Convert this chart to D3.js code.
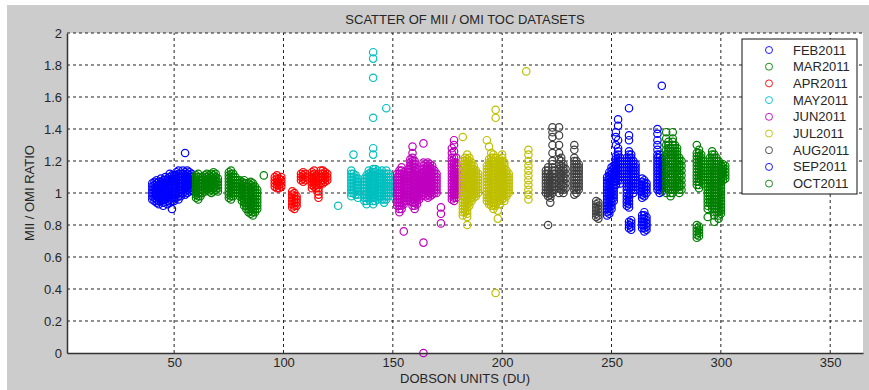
<!DOCTYPE html>
<html>
<head>
<meta charset="utf-8">
<script src="https://cdn.jsdelivr.net/npm/d3@7"></script>
<style>
  body { margin: 0; background: #fff; }
  text { font-family: "Liberation Sans", Arial, sans-serif; font-size: 13px; fill: #262626; }
</style>
</head>
<body>
<div id="chart"></div>
<script>
const months = ['FEB2011', 'MAR2011', 'APR2011', 'MAY2011', 'JUN2011', 'JUL2011', 'AUG2011', 'SEP2011', 'OCT2011'];
const colors = ['#0000ff', '#008000', '#ff0000', '#00bfbf', '#bf00bf', '#bfbf00', '#404040', '#0000ff', '#008000'];
const xTicks = [50, 100, 150, 200, 250, 300, 350];
const yTicks = [0, 0.2, 0.4, 0.6, 0.8, 1, 1.2, 1.4, 1.6, 1.8, 2];

// [day, ratios for that day]
const feb = [
  [40, [0.96, 0.98, 1.0, 1.02, 1.04, 1.06]],
  [41, [0.95, 0.97, 0.99, 1.01, 1.03, 1.05, 1.07]],
  [42, [0.94, 0.96, 0.98, 1.0, 1.02, 1.04, 1.06, 1.08]],
  [43, [0.93, 0.95, 0.97, 0.99, 1.01, 1.03, 1.05, 1.07]],
  [44, [0.95, 0.97, 0.99, 1.01, 1.03, 1.05, 1.07, 1.09]],
  [45, [0.92, 0.94, 0.96, 0.98, 1.0, 1.02, 1.04, 1.06, 1.08]],
  [46, [0.96, 0.98, 1.0, 1.02, 1.04, 1.06, 1.08, 1.1]],
  [47, [0.93, 0.95, 0.97, 0.99, 1.01, 1.03, 1.05, 1.07, 1.09]],
  [48, [0.94, 0.96, 0.98, 1.0, 1.02, 1.04, 1.06, 1.08, 1.1, 1.12]],
  [49, [0.9, 0.95, 0.97, 0.99, 1.01, 1.03, 1.05, 1.07, 1.09, 1.11]],
  [50, [0.95, 0.97, 0.99, 1.01, 1.03, 1.05, 1.07, 1.09, 1.11]],
  [51, [0.97, 0.99, 1.01, 1.03, 1.05, 1.07, 1.09, 1.11, 1.13]],
  [52, [0.96, 0.98, 1.0, 1.02, 1.04, 1.06, 1.08, 1.1, 1.12, 1.14]],
  [53, [0.98, 1.0, 1.02, 1.04, 1.06, 1.08, 1.1, 1.12]],
  [54, [1.0, 1.02, 1.04, 1.06, 1.08, 1.1, 1.12, 1.14]],
  [55, [0.99, 1.01, 1.03, 1.05, 1.07, 1.09, 1.11, 1.13, 1.25]],
  [56, [1.0, 1.02, 1.04, 1.06, 1.08, 1.1, 1.12, 1.14]],
  [57, [1.01, 1.03, 1.05, 1.07, 1.09, 1.11, 1.13]],
  [58, [1.02, 1.04, 1.06, 1.08, 1.1, 1.12]],
  [59, [1.01, 1.03, 1.05]]
];
const mar = [
  [60, [0.97, 0.99, 1.01, 1.03, 1.05, 1.07, 1.09, 1.11]],
  [61, [0.96, 0.98, 1.0, 1.02, 1.04, 1.06, 1.08, 1.1, 1.12]],
  [62, [0.98, 1.0, 1.02, 1.04, 1.06, 1.08, 1.1]],
  [63, [1.0, 1.02, 1.04, 1.06, 1.08, 1.1]],
  [64, [1.01, 1.03, 1.05, 1.07, 1.09, 1.11]],
  [65, [1.02, 1.04, 1.06, 1.08, 1.1, 1.12]],
  [66, [1.01, 1.03, 1.05, 1.07, 1.09, 1.11]],
  [67, [1.0, 1.02, 1.04, 1.06, 1.08, 1.1, 1.12]],
  [68, [1.01, 1.03, 1.05, 1.07, 1.09, 1.11, 1.13]],
  [69, [1.02, 1.04, 1.06, 1.08, 1.1, 1.12]],
  [70, [1.01, 1.03, 1.05, 1.07, 1.09]],
  [75, [0.97, 0.99, 1.01, 1.03, 1.05, 1.07, 1.09, 1.11, 1.13]],
  [76, [0.96, 0.98, 1.0, 1.02, 1.04, 1.06, 1.08, 1.1, 1.12, 1.14]],
  [77, [0.98, 1.0, 1.02, 1.04, 1.06, 1.08, 1.1, 1.12]],
  [78, [1.0, 1.02, 1.04, 1.06, 1.08, 1.1]],
  [79, [1.0, 1.02, 1.04, 1.06, 1.08]],
  [80, [0.98, 1.0, 1.02, 1.04, 1.06, 1.08]],
  [81, [0.95, 0.97, 0.99, 1.01, 1.03, 1.05, 1.07]],
  [82, [0.92, 0.94, 0.96, 0.98, 1.0, 1.02, 1.04, 1.06, 1.08]],
  [83, [0.9, 0.92, 0.94, 0.96, 0.98, 1.0, 1.02, 1.04, 1.06]],
  [84, [0.88, 0.9, 0.92, 0.94, 0.96, 0.98, 1.0, 1.02, 1.04, 1.06]],
  [85, [0.87, 0.89, 0.91, 0.93, 0.95, 0.97, 0.99, 1.01, 1.03, 1.05, 1.07]],
  [86, [0.86, 0.88, 0.9, 0.92, 0.94, 0.96, 0.98, 1.0, 1.02, 1.04, 1.06]],
  [87, [0.88, 0.9, 0.92, 0.94, 0.96, 0.98, 1.0, 1.02, 1.04]],
  [88, [0.9, 0.92, 0.94, 0.96, 0.98, 1.0, 1.02]],
  [91, [1.11]]
];
const apr = [
  [96, [1.04, 1.06, 1.08, 1.1]],
  [97, [1.03, 1.05, 1.07, 1.09, 1.11]],
  [98, [1.03, 1.05, 1.07, 1.09]],
  [99, [1.04, 1.06, 1.08, 1.1]],
  [104, [0.91, 0.93, 0.95, 0.97, 0.99, 1.01]],
  [105, [0.9, 0.92, 0.94, 0.96, 0.98, 1.0]],
  [106, [0.92, 0.94, 0.96, 0.98]],
  [108, [1.08, 1.1, 1.12]],
  [109, [1.07, 1.09, 1.11, 1.13]],
  [110, [1.08, 1.1, 1.12]],
  [113, [1.03, 1.05, 1.07, 1.09, 1.11, 1.13]],
  [114, [1.04, 1.06, 1.08, 1.1, 1.12, 1.14]],
  [115, [1.03, 1.05, 1.07, 1.09, 1.11]],
  [116, [0.97, 0.99, 1.01, 1.03, 1.05]],
  [117, [1.06, 1.08, 1.1, 1.12, 1.14]],
  [118, [1.06, 1.08, 1.1, 1.12, 1.14]],
  [119, [1.07, 1.09, 1.11, 1.13]],
  [120, [1.08, 1.1, 1.12]]
];
const may = [
  [125, [0.92]],
  [131, [0.98, 1.0, 1.02, 1.04, 1.06, 1.08, 1.1, 1.12, 1.14]],
  [132, [1.0, 1.02, 1.04, 1.06, 1.08, 1.1, 1.12, 1.24]],
  [133, [0.99, 1.01, 1.03, 1.05, 1.07, 1.09, 1.11]],
  [134, [0.97, 0.99, 1.01, 1.03, 1.05, 1.07, 1.09]],
  [137, [0.95, 0.97, 0.99, 1.01, 1.03, 1.05, 1.07, 1.09]],
  [138, [0.93, 0.95, 0.97, 0.99, 1.01, 1.03, 1.05, 1.07, 1.09, 1.11]],
  [139, [0.96, 0.98, 1.0, 1.02, 1.04, 1.06, 1.08, 1.1, 1.12, 1.14]],
  [140, [0.97, 0.99, 1.01, 1.03, 1.05, 1.07, 1.09, 1.11, 1.13]],
  [141, [0.93, 0.95, 0.97, 0.99, 1.01, 1.03, 1.05, 1.07, 1.09, 1.11, 1.13, 1.15, 1.24, 1.28, 1.47, 1.72, 1.84, 1.88]],
  [142, [0.95, 0.97, 0.99, 1.01, 1.03, 1.05, 1.07, 1.09, 1.11, 1.13, 1.15]],
  [143, [0.96, 0.98, 1.0, 1.02, 1.04, 1.06, 1.08, 1.1, 1.12, 1.14]],
  [144, [0.98, 1.0, 1.02, 1.04, 1.06, 1.08, 1.1, 1.12]],
  [145, [0.96, 0.98, 1.0, 1.02, 1.04, 1.06, 1.08, 1.1, 1.12, 1.14]],
  [146, [0.94, 0.96, 0.98, 1.0, 1.02, 1.04, 1.06, 1.08, 1.1, 1.12]],
  [147, [0.96, 0.98, 1.0, 1.02, 1.04, 1.06, 1.08, 1.1, 1.12, 1.14, 1.53]],
  [148, [0.98, 1.0, 1.02, 1.04, 1.06, 1.08, 1.1, 1.12]],
  [149, [1.0, 1.02, 1.04, 1.06, 1.08, 1.1]],
  [150, [0.98, 1.0, 1.02, 1.04, 1.06]]
];
const jun = [
  [152, [0.92, 0.94, 0.96, 0.98, 1.0, 1.02, 1.04, 1.06, 1.08, 1.1, 1.12]],
  [153, [0.88, 0.9, 0.92, 0.94, 0.96, 0.98, 1.0, 1.02, 1.04, 1.06, 1.08, 1.1, 1.12, 1.14]],
  [154, [0.9, 0.92, 0.94, 0.96, 0.98, 1.0, 1.02, 1.04, 1.06, 1.08, 1.1, 1.12, 1.14, 1.16]],
  [155, [0.76, 0.93, 0.95, 0.97, 0.99, 1.01, 1.03, 1.05, 1.07, 1.09, 1.11, 1.13]],
  [156, [0.95, 0.97, 0.99, 1.01, 1.03, 1.05, 1.07, 1.09, 1.11]],
  [157, [0.97, 0.99, 1.01, 1.03, 1.05, 1.07, 1.09, 1.11, 1.13, 1.15]],
  [158, [0.95, 0.97, 0.99, 1.01, 1.03, 1.05, 1.07, 1.09, 1.11, 1.13, 1.15, 1.17, 1.19, 1.21]],
  [159, [0.92, 0.94, 0.96, 0.98, 1.0, 1.02, 1.04, 1.06, 1.08, 1.1, 1.12, 1.14, 1.16, 1.18, 1.2, 1.22, 1.25, 1.29]],
  [160, [0.9, 0.92, 0.94, 0.96, 0.98, 1.0, 1.02, 1.04, 1.06, 1.08, 1.1, 1.12, 1.14, 1.16, 1.18, 1.2]],
  [161, [0.93, 0.95, 0.97, 0.99, 1.01, 1.03, 1.05, 1.07, 1.09, 1.11, 1.13, 1.15]],
  [162, [0.96, 0.98, 1.0, 1.02, 1.04, 1.06, 1.08, 1.1]],
  [163, [0.98, 1.0, 1.02, 1.04, 1.06, 1.08, 1.1, 1.12]],
  [164, [0.0, 0.69, 0.99, 1.01, 1.03, 1.05, 1.07, 1.09, 1.11, 1.13, 1.15, 1.17, 1.19, 1.31]],
  [165, [0.98, 1.0, 1.02, 1.04, 1.06, 1.08, 1.1, 1.12, 1.14, 1.16, 1.18]],
  [166, [0.97, 0.99, 1.01, 1.03, 1.05, 1.07, 1.09, 1.11, 1.13, 1.15, 1.17, 1.19]],
  [167, [0.98, 1.0, 1.02, 1.04, 1.06, 1.08, 1.1, 1.12, 1.14, 1.16, 1.18]],
  [168, [0.99, 1.01, 1.03, 1.05, 1.07, 1.09, 1.11, 1.13, 1.15, 1.17]],
  [169, [1.0, 1.02, 1.04, 1.06, 1.08, 1.1, 1.12, 1.14]],
  [170, [1.0, 1.02, 1.04, 1.06, 1.08, 1.1, 1.12]],
  [172, [0.81, 0.87, 0.91]],
  [177, [0.96, 0.98, 1.0, 1.02, 1.04, 1.06, 1.08, 1.1, 1.12, 1.14, 1.16, 1.18, 1.2, 1.22, 1.25, 1.28]],
  [178, [0.95, 0.97, 0.99, 1.01, 1.03, 1.05, 1.07, 1.09, 1.11, 1.13, 1.15, 1.17, 1.19, 1.22, 1.26, 1.3, 1.33]],
  [179, [0.97, 0.99, 1.01, 1.03, 1.05, 1.07, 1.09, 1.11, 1.13, 1.15, 1.17, 1.19, 1.22]],
  [180, [1.0, 1.02, 1.04, 1.06, 1.08, 1.1, 1.12, 1.15]],
  [181, [1.02, 1.04, 1.06, 1.08, 1.1]]
];
const jul = [
  [182, [0.86, 0.88, 0.9, 0.92, 0.94, 0.96, 0.98, 1.0, 1.02, 1.04, 1.06, 1.08, 1.1, 1.12, 1.14, 1.16, 1.18, 1.2, 1.35]],
  [183, [0.88, 0.9, 0.92, 0.94, 0.96, 0.98, 1.0, 1.02, 1.04, 1.06, 1.08, 1.1, 1.12, 1.14, 1.16, 1.18, 1.2, 1.22]],
  [184, [0.8, 0.85, 0.87, 0.89, 0.91, 0.93, 0.95, 0.97, 0.99, 1.01, 1.03, 1.05, 1.07, 1.09, 1.11, 1.13, 1.15, 1.17, 1.19, 1.21, 1.24]],
  [185, [0.92, 0.94, 0.96, 0.98, 1.0, 1.02, 1.04, 1.06, 1.08, 1.1, 1.12, 1.14, 1.16, 1.18, 1.2, 1.22]],
  [186, [0.95, 0.97, 0.99, 1.01, 1.03, 1.05, 1.07, 1.09, 1.11, 1.13, 1.15, 1.17, 1.19]],
  [187, [0.97, 0.99, 1.01, 1.03, 1.05, 1.07, 1.09, 1.11, 1.13, 1.15, 1.17]],
  [188, [0.98, 1.0, 1.02, 1.04, 1.06, 1.08, 1.1, 1.12, 1.14]],
  [189, [1.0, 1.02, 1.04, 1.06, 1.08, 1.1, 1.12]],
  [193, [0.95, 0.97, 0.99, 1.01, 1.03, 1.05, 1.07, 1.09, 1.11, 1.13, 1.15, 1.17, 1.33]],
  [194, [0.93, 0.95, 0.97, 0.99, 1.01, 1.03, 1.05, 1.07, 1.09, 1.11, 1.13, 1.15, 1.17, 1.19, 1.21, 1.29]],
  [195, [0.92, 0.94, 0.96, 0.98, 1.0, 1.02, 1.04, 1.06, 1.08, 1.1, 1.12, 1.14, 1.16, 1.18, 1.2, 1.22, 1.25]],
  [196, [0.9, 0.92, 0.94, 0.96, 0.98, 1.0, 1.02, 1.04, 1.06, 1.08, 1.1, 1.12, 1.14, 1.16, 1.18, 1.2, 1.22, 1.24]],
  [197, [0.375, 0.92, 0.94, 0.96, 0.98, 1.0, 1.02, 1.04, 1.06, 1.08, 1.1, 1.12, 1.14, 1.16, 1.18, 1.2, 1.22, 1.47, 1.52]],
  [198, [0.84, 0.89, 0.95, 0.97, 0.99, 1.01, 1.03, 1.05, 1.07, 1.09, 1.11, 1.13, 1.15, 1.17, 1.19]],
  [199, [0.93, 0.95, 0.97, 0.99, 1.01, 1.03, 1.05, 1.07, 1.09, 1.11, 1.13, 1.15, 1.17, 1.19, 1.21]],
  [200, [0.96, 0.98, 1.0, 1.02, 1.04, 1.06, 1.08, 1.1, 1.12, 1.14, 1.16, 1.18, 1.2, 1.22, 1.24]],
  [201, [0.95, 0.97, 0.99, 1.01, 1.03, 1.05, 1.07, 1.09, 1.11, 1.13, 1.15, 1.17, 1.19]],
  [202, [0.98, 1.0, 1.02, 1.04, 1.06, 1.08, 1.1, 1.12, 1.14]],
  [203, [1.0, 1.02, 1.04, 1.06, 1.08, 1.1, 1.12]],
  [211, [1.76]],
  [212, [0.96, 0.99, 1.02, 1.05, 1.08, 1.11, 1.14, 1.17, 1.2, 1.24, 1.27]]
];
const aug = [
  [220, [1.0, 1.02, 1.04, 1.06, 1.08, 1.1, 1.12, 1.14]],
  [221, [0.8, 0.98, 1.0, 1.02, 1.04, 1.06, 1.08, 1.1, 1.12, 1.14, 1.16]],
  [222, [0.94, 0.97, 0.99, 1.01, 1.03, 1.05, 1.07, 1.09, 1.11]],
  [223, [1.0, 1.02, 1.04, 1.06, 1.08, 1.1, 1.12, 1.14, 1.16, 1.18, 1.2, 1.25, 1.3, 1.35, 1.38, 1.41]],
  [224, [1.02, 1.04, 1.06, 1.08, 1.1, 1.12, 1.14]],
  [226, [1.0, 1.03, 1.06, 1.09, 1.12, 1.15, 1.18, 1.21, 1.25, 1.3, 1.36, 1.41]],
  [227, [1.02, 1.05, 1.08, 1.11, 1.14, 1.17, 1.2, 1.22]],
  [228, [1.0, 1.02, 1.04, 1.06, 1.08, 1.1, 1.12, 1.14, 1.16, 1.18]],
  [229, [1.03, 1.06, 1.09, 1.12, 1.15]],
  [233, [0.99, 1.02, 1.04, 1.06, 1.08, 1.1, 1.12, 1.14, 1.16, 1.18, 1.2, 1.22, 1.27, 1.3]],
  [234, [1.0, 1.02, 1.04, 1.06, 1.08, 1.1, 1.12, 1.14, 1.16, 1.18, 1.2]],
  [235, [1.02, 1.04, 1.06, 1.08, 1.1, 1.12, 1.14, 1.16, 1.18]],
  [243, [0.85, 0.87, 0.89, 0.91, 0.93, 0.95]],
  [244, [0.84, 0.86, 0.88, 0.9, 0.92, 0.94]]
];
const sep = [
  [248, [0.86, 0.88, 0.9, 0.92, 0.94, 0.96, 0.98, 1.0, 1.02, 1.04, 1.06, 1.08, 1.1]],
  [249, [0.87, 0.89, 0.91, 0.93, 0.95, 0.97, 0.99, 1.01, 1.03, 1.05, 1.07, 1.09, 1.11, 1.13]],
  [250, [0.9, 0.92, 0.94, 0.96, 0.98, 1.0, 1.02, 1.04, 1.06, 1.08, 1.1, 1.12, 1.14, 1.16]],
  [251, [0.95, 0.97, 0.99, 1.01, 1.03, 1.05, 1.07, 1.09, 1.11, 1.13, 1.15, 1.17]],
  [252, [1.05, 1.07, 1.09, 1.11, 1.13, 1.15, 1.17, 1.19, 1.21, 1.23, 1.3, 1.35, 1.38]],
  [253, [1.08, 1.1, 1.12, 1.14, 1.16, 1.18, 1.2, 1.22, 1.24, 1.26, 1.28, 1.33, 1.42, 1.46]],
  [254, [1.06, 1.08, 1.1, 1.12, 1.14, 1.16, 1.18, 1.2, 1.22]],
  [257, [0.92, 0.94, 0.96, 0.98, 1.0, 1.02, 1.04, 1.06, 1.08, 1.1, 1.12, 1.14, 1.16, 1.18, 1.2, 1.22]],
  [258, [0.78, 0.8, 0.82, 0.91, 0.93, 0.95, 0.97, 0.99, 1.04, 1.06, 1.08, 1.1, 1.12, 1.14, 1.16, 1.18, 1.2, 1.22, 1.24, 1.26, 1.33, 1.36, 1.53]],
  [259, [0.77, 0.79, 0.81, 0.83, 1.02, 1.04, 1.06, 1.08, 1.1, 1.12, 1.14, 1.16, 1.18, 1.2, 1.22, 1.24]],
  [260, [1.0, 1.02, 1.04, 1.06, 1.08, 1.1, 1.12, 1.14, 1.16, 1.18, 1.2]],
  [261, [1.02, 1.04, 1.06, 1.08, 1.1, 1.12, 1.14, 1.16, 1.18]],
  [264, [0.78, 0.8, 0.82, 0.84, 0.86, 0.97, 0.99, 1.01, 1.03, 1.05, 1.07, 1.09]],
  [265, [0.76, 0.78, 0.8, 0.82, 0.84, 0.86, 0.88, 0.98, 1.0, 1.02, 1.04, 1.06, 1.08]],
  [266, [0.77, 0.79, 0.81, 0.83, 0.85, 1.0, 1.02, 1.04, 1.06]],
  [271, [1.02, 1.04, 1.06, 1.08, 1.1, 1.12, 1.14, 1.16, 1.18, 1.2, 1.22, 1.24, 1.27, 1.3, 1.33, 1.37, 1.4]],
  [272, [1.0, 1.02, 1.04, 1.06, 1.08, 1.1, 1.12, 1.14, 1.16, 1.18, 1.2, 1.22, 1.24]],
  [273, [1.01, 1.03, 1.05, 1.07, 1.09, 1.11, 1.13, 1.15, 1.17, 1.19, 1.21, 1.67]]
];
const oct = [
  [275, [1.0, 1.03, 1.06, 1.09, 1.12, 1.15, 1.18, 1.21, 1.24, 1.27, 1.3, 1.34, 1.38]],
  [276, [1.02, 1.04, 1.06, 1.08, 1.1, 1.12, 1.14, 1.16, 1.18, 1.2, 1.22, 1.24, 1.26, 1.28, 1.3, 1.32]],
  [277, [0.98, 1.0, 1.02, 1.04, 1.06, 1.08, 1.1, 1.12, 1.14, 1.16, 1.18, 1.2, 1.22, 1.24, 1.26, 1.28]],
  [278, [1.0, 1.02, 1.04, 1.06, 1.08, 1.1, 1.12, 1.14, 1.16, 1.18, 1.2, 1.22, 1.24, 1.26, 1.28, 1.3, 1.32, 1.34, 1.38]],
  [279, [1.02, 1.04, 1.06, 1.08, 1.1, 1.12, 1.14, 1.16, 1.18, 1.2, 1.22, 1.24, 1.26, 1.28, 1.3]],
  [280, [1.04, 1.06, 1.08, 1.1, 1.12, 1.14, 1.16, 1.18, 1.2, 1.22, 1.24, 1.26, 1.28]],
  [281, [1.0, 1.02, 1.04, 1.06, 1.08, 1.1, 1.12, 1.14, 1.16, 1.18, 1.2, 1.22]],
  [282, [1.02, 1.05, 1.08, 1.11, 1.14, 1.17, 1.2]],
  [289, [0.72, 0.74, 0.76, 0.78, 0.8, 1.05, 1.07, 1.09, 1.11, 1.13, 1.15, 1.17, 1.19, 1.21, 1.23, 1.25, 1.3]],
  [290, [0.73, 0.75, 0.77, 0.79, 1.03, 1.05, 1.07, 1.09, 1.11, 1.13, 1.15, 1.17, 1.19, 1.21, 1.23, 1.25, 1.27]],
  [291, [1.08, 1.1, 1.12, 1.14, 1.16, 1.18, 1.2, 1.22, 1.24]],
  [292, [1.06, 1.08, 1.1, 1.12, 1.14, 1.16, 1.18, 1.2]],
  [294, [0.85, 0.9, 0.92, 0.94, 0.96, 0.98, 1.0, 1.02, 1.04, 1.06, 1.08, 1.1, 1.12, 1.14]],
  [295, [0.94, 0.96, 0.98, 1.0, 1.02, 1.04, 1.06, 1.08, 1.1, 1.12, 1.14, 1.16, 1.18, 1.2, 1.22]],
  [296, [0.9, 0.92, 0.94, 0.96, 0.98, 1.0, 1.02, 1.04, 1.06, 1.08, 1.1, 1.12, 1.14, 1.16, 1.18, 1.2, 1.22, 1.24, 1.26]],
  [297, [0.82, 0.86, 0.88, 0.9, 0.92, 0.94, 0.96, 0.98, 1.0, 1.02, 1.04, 1.06, 1.08, 1.1, 1.12, 1.14, 1.16, 1.18, 1.2, 1.22, 1.24]],
  [298, [0.88, 0.9, 0.92, 0.94, 0.96, 0.98, 1.0, 1.02, 1.04, 1.06, 1.08, 1.1, 1.12, 1.14, 1.16, 1.18, 1.2, 1.22]],
  [299, [0.84, 0.86, 0.88, 0.9, 0.92, 0.94, 0.96, 0.98, 1.0, 1.02, 1.04, 1.06, 1.08, 1.1, 1.12, 1.14, 1.16, 1.18, 1.2]],
  [300, [0.87, 0.89, 0.91, 0.93, 0.95, 0.97, 0.99, 1.01, 1.03, 1.05, 1.07, 1.09, 1.11, 1.13, 1.15, 1.17]],
  [301, [1.08, 1.1, 1.12, 1.14, 1.16, 1.18]],
  [302, [1.09, 1.11, 1.13, 1.15, 1.17]]
];
const series = [feb, mar, apr, may, jun, jul, aug, sep, oct];

const width = 869, height = 390;
const margin = { top: 33, right: 6, bottom: 37, left: 67 };

const svg = d3.select('#chart').append('svg')
  .attr('width', width)
  .attr('height', height);

// grey figure background (white strip on top/left like the screenshot)
svg.append('rect').attr('x', 7).attr('y', 5)
  .attr('width', width - 7).attr('height', height - 5)
  .attr('fill', '#cccccc');

const x = d3.scaleLinear().domain([1, 365]).range([margin.left, width - margin.right]);
const y = d3.scaleLinear().domain([0, 2]).range([height - margin.bottom, margin.top]);

svg.append('rect')
  .attr('x', x(1)).attr('y', y(2))
  .attr('width', x(365) - x(1)).attr('height', y(0) - y(2))
  .attr('fill', '#fff');

// grid
svg.selectAll('.x-grid')
  .data(xTicks)
  .enter()
  .append('line')
  .attr('class', 'x-grid')
  .attr('x1', d => x(d)).attr('x2', d => x(d))
  .attr('y1', y(0)).attr('y2', y(2))
  .attr('stroke', '#222')
  .attr('stroke-width', 1)
  .attr('stroke-dasharray', '3,3');

svg.selectAll('.y-grid')
  .data(yTicks.slice(1))
  .enter()
  .append('line')
  .attr('class', 'y-grid')
  .attr('x1', x(1)).attr('x2', x(365))
  .attr('y1', d => y(d)).attr('y2', d => y(d))
  .attr('stroke', '#222')
  .attr('stroke-width', 1)
  .attr('stroke-dasharray', '3,3');

// points
series.forEach((s, i) => {
  const pts = [];
  s.forEach(([day, vals]) => vals.forEach(v => pts.push([day, v])));
  svg.append('g')
    .selectAll('circle')
    .data(pts)
    .enter()
    .append('circle')
    .attr('cx', d => x(d[0]))
    .attr('cy', d => y(d[1]))
    .attr('r', 3.7)
    .attr('fill', 'none')
    .attr('stroke', colors[i])
    .attr('stroke-width', 1.2);
});

// axes
const xAxis = svg.append('g')
  .attr('transform', `translate(0, ${y(0)})`)
  .call(d3.axisBottom(x).tickValues(xTicks).tickSize(0).tickPadding(5));
const yAxis = svg.append('g')
  .attr('transform', `translate(${x(1)}, 0)`)
  .call(d3.axisLeft(y).tickValues(yTicks).tickSize(0).tickPadding(5).tickFormat(d3.format('')));
[xAxis, yAxis].forEach(a => {
  a.select('.domain').attr('stroke', '#333').attr('stroke-width', 1.5);
  a.selectAll('text').attr('font-size', 13).attr('font-family', '"Liberation Sans", Arial, sans-serif').attr('fill', '#262626');
});

// titles
svg.append('text')
  .attr('x', (x(1) + x(365)) / 2).attr('y', 24)
  .attr('text-anchor', 'middle')
  .text('SCATTER OF MII / OMI TOC DATASETS');
svg.append('text')
  .attr('x', (x(1) + x(365)) / 2).attr('y', 383)
  .attr('text-anchor', 'middle')
  .text('DOBSON UNITS (DU)');
svg.append('text')
  .attr('transform', `translate(34, ${(y(0) + y(2)) / 2}) rotate(-90)`)
  .attr('text-anchor', 'middle')
  .text('MII / OMI RATIO');

// legend
const legend = svg.append('g').attr('transform', 'translate(742, 39)');
legend.append('rect')
  .attr('width', 115).attr('height', 155)
  .attr('fill', '#fff')
  .attr('stroke', '#111')
  .attr('stroke-width', 1);
months.forEach((m, i) => {
  const row = legend.append('g').attr('transform', `translate(0, ${11 + i * 16.7})`);
  row.append('circle')
    .attr('cx', 27).attr('cy', 0).attr('r', 3.5)
    .attr('fill', 'none')
    .attr('stroke', colors[i])
    .attr('stroke-width', 0.9);
  row.append('text')
    .attr('x', 51).attr('y', 4.5)
    .text(m);
});
</script>
</body>
</html>
